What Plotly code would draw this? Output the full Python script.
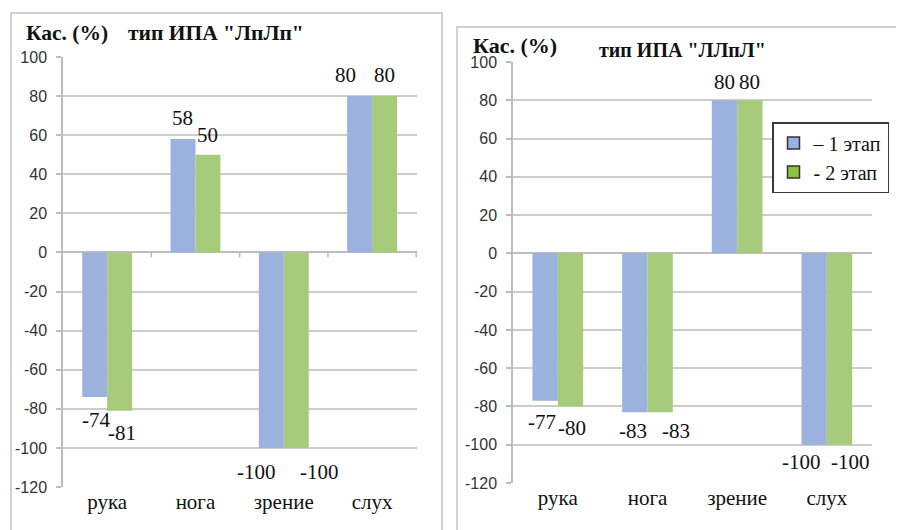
import plotly.graph_objects as go

# ---- data ----
categories = ["рука", "нога", "зрение", "слух"]
left_stage1 = [-74, 58, -100, 80]
left_stage2 = [-81, 50, -100, 80]
right_stage1 = [-77, -83, 80, -100]
right_stage2 = [-80, -83, 80, -100]
series_names = ["– 1 этап", "- 2 этап"]
left_title = ["Кас. (%)", "тип ИПА \"ЛпЛп\""]
right_title = ["Кас. (%)", "тип ИПА \"ЛЛпЛ\""]
y_ticks = list(range(-120, 101, 20))
y_ticktext = [str(v) for v in y_ticks]

# ---- style ----
W, H = 904, 530
PAGE_OFF = 8  # default body margin of the html page
BLUE = "#9bb1de"
GREEN = "#a8cb7b"
LEG_BLUE = "#9ab0e2"
LEG_GREEN = "#8dc43f"
GRID = "#cccccc"
AXIS = "#bdbdbd"
SERIF = "Liberation Serif, Times New Roman, serif"
SANS = "Liberation Sans, Arial, sans-serif"
BARGAP = 0.435

# label offsets (px): (dx from bar centre, distance from bar end)
left_off1 = [(1, 23), (0, 21), (-15, 24), (-14, 21)]
left_off2 = [(2, 22), (0, 20), (23, 24), (0, 21)]
right_off1 = [(-3, 21), (-2, 19), (0, 18), (-13, 17)]
right_off2 = [(1, 22), (16, 19), (0, 18), (11, 17)]


def px(x):
    return (x - PAGE_OFF) / W


def py(y):
    return 1 - (y - PAGE_OFF) / H


fig = go.Figure()

for xa, ya, s1, s2 in [("x", "y", left_stage1, left_stage2),
                       ("x2", "y2", right_stage1, right_stage2)]:
    fig.add_trace(go.Bar(x=categories, y=s1, marker_color=BLUE, marker_line_width=0,
                         xaxis=xa, yaxis=ya, showlegend=False, name=series_names[0],
                         offsetgroup="s1"))
    fig.add_trace(go.Bar(x=categories, y=s2, marker_color=GREEN, marker_line_width=0,
                         xaxis=xa, yaxis=ya, showlegend=False, name=series_names[1],
                         offsetgroup="s2"))

# legend entries (no data drawn)
for nm, col, og in zip(series_names, [LEG_BLUE, LEG_GREEN], ["s1", "s2"]):
    fig.add_trace(go.Bar(x=[None], y=[None], name=nm, xaxis="x2", yaxis="y2",
                         offsetgroup=og,
                         marker=dict(color=col, line=dict(color="#333333", width=1.5)),
                         showlegend=True))

half = (1 - BARGAP) / 4.0  # centre offset of each bar in category units
annotations = []
for xref, yref, s1, s2, o1, o2 in [("x", "y", left_stage1, left_stage2, left_off1, left_off2),
                                    ("x2", "y2", right_stage1, right_stage2, right_off1, right_off2)]:
    for vals, offs, sgn in [(s1, o1, -1), (s2, o2, 1)]:
        for i, (v, (dx, dist)) in enumerate(zip(vals, offs)):
            annotations.append(dict(
                x=i + sgn * half, y=v, xref=xref, yref=yref, text=str(v),
                showarrow=False, xanchor="center", yanchor="middle",
                xshift=dx, yshift=dist if v >= 0 else -dist,
                font=dict(family=SERIF, size=21, color="#111111")))

# titles
annotations += [
    dict(x=px(24), y=py(33), xref="paper", yref="paper", text="<b>%s</b>" % left_title[0],
         showarrow=False, xanchor="left", yanchor="middle",
         font=dict(family=SERIF, size=21.5, color="#111111")),
    dict(x=px(126), y=py(33), xref="paper", yref="paper", text="<b>%s</b>" % left_title[1],
         showarrow=False, xanchor="left", yanchor="middle",
         font=dict(family=SERIF, size=21.5, color="#111111")),
    dict(x=px(471), y=py(46), xref="paper", yref="paper", text="<b>%s</b>" % right_title[0],
         showarrow=False, xanchor="left", yanchor="middle",
         font=dict(family=SERIF, size=22, color="#111111")),
    dict(x=px(597), y=py(50), xref="paper", yref="paper", text="<b>%s</b>" % right_title[1],
         showarrow=False, xanchor="left", yanchor="middle",
         font=dict(family=SERIF, size=20, color="#111111")),
]

shapes = [
    dict(type="rect", xref="paper", yref="paper", x0=px(11), x1=px(442), y0=-0.05, y1=py(13),
         line=dict(color="#c4c4c4", width=1.5), fillcolor="rgba(0,0,0,0)", layer="below"),
    dict(type="rect", xref="paper", yref="paper", x0=px(457), x1=1.05, y0=-0.05, y1=py(27),
         line=dict(color="#c4c4c4", width=1.5), fillcolor="rgba(0,0,0,0)", layer="below"),
]
for i in range(len(categories)):
    shapes.append(dict(type="line", xref="x", yref="y", x0=i + 0.5, x1=i + 0.5, y0=0, y1=-2.5,
                       line=dict(color=AXIS, width=1.5)))

yaxis_common = dict(range=[-120, 100], tickvals=y_ticks, ticktext=y_ticktext,
                    showgrid=True, gridcolor=GRID,
                    gridwidth=1.5, zeroline=True, zerolinecolor=AXIS, zerolinewidth=1.5,
                    showline=True, linecolor=AXIS, linewidth=1.5, ticks="outside",
                    ticklen=5, tickcolor=AXIS, tickwidth=1.5, ticklabelstandoff=6,
                    tickfont=dict(family=SANS, size=16, color="#333333"), fixedrange=True,
                    automargin=False)
xaxis_common = dict(showgrid=False, showline=False, ticks="", zeroline=False,
                    tickfont=dict(family=SERIF, size=21, color="#111111"), fixedrange=True,
                    ticklabelstandoff=0, automargin=False)

fig.update_layout(
    width=W, height=H, margin=dict(l=0, r=0, t=0, b=0, autoexpand=False),
    paper_bgcolor="white", plot_bgcolor="white",
    barmode="group", bargap=BARGAP, bargroupgap=0,
    xaxis=dict(domain=[px(63), px(417)], anchor="y", **xaxis_common),
    yaxis=dict(domain=[py(487), py(57)], anchor="x", **yaxis_common),
    xaxis2=dict(domain=[px(513), px(872)], anchor="y2", **xaxis_common),
    yaxis2=dict(domain=[py(483), py(62)], anchor="x2", **yaxis_common),
    annotations=annotations, shapes=shapes,
    legend=dict(x=px(772), y=py(122), xanchor="left", yanchor="top",
                bordercolor="#3a3a3a", borderwidth=1.5, bgcolor="white",
                font=dict(family=SERIF, size=20, color="#111111"),
                itemclick=False, itemdoubleclick=False),
    showlegend=True,
)

fig.write_html("out.html")
